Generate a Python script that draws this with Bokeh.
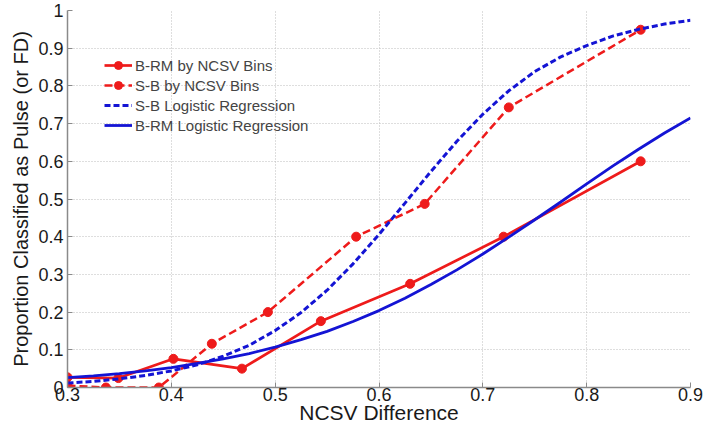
from bokeh.plotting import figure
from bokeh.models import Range1d, FixedTicker, Legend, LegendItem
from bokeh.embed import file_html
from bokeh.resources import INLINE

# ---- data ----
brm_bins_x = [0.300, 0.349, 0.402, 0.468, 0.544, 0.630, 0.720, 0.852]
brm_bins_y = [0.027, 0.025, 0.076, 0.050, 0.176, 0.275, 0.400, 0.600]

sb_bins_x = [0.300, 0.337, 0.388, 0.439, 0.493, 0.578, 0.644, 0.725, 0.852]
sb_bins_y = [0.005, 0.000, 0.000, 0.116, 0.200, 0.400, 0.487, 0.743, 0.949]

logit_x = [0.300, 0.325, 0.350, 0.375, 0.400, 0.425, 0.450, 0.475, 0.500,
           0.525, 0.550, 0.575, 0.600, 0.625, 0.650, 0.675, 0.700, 0.725,
           0.750, 0.775, 0.800, 0.825, 0.850, 0.875, 0.900]
sb_logit_y = [0.012, 0.016, 0.023, 0.032, 0.044, 0.060, 0.083, 0.112, 0.151,
              0.199, 0.258, 0.328, 0.406, 0.489, 0.573, 0.653, 0.725, 0.787,
              0.838, 0.877, 0.907, 0.932, 0.950, 0.964, 0.974]
brm_logit_y = [0.026, 0.031, 0.037, 0.044, 0.053, 0.064, 0.076, 0.090, 0.107,
               0.127, 0.149, 0.175, 0.204, 0.237, 0.273, 0.312, 0.354, 0.399,
               0.445, 0.492, 0.540, 0.587, 0.632, 0.675, 0.715]

x_ticks = [0.3, 0.4, 0.5, 0.6, 0.7, 0.8, 0.9]
x_tick_labels = ["0.3", "0.4", "0.5", "0.6", "0.7", "0.8", "0.9"]
y_ticks = [0.0, 0.1, 0.2, 0.3, 0.4, 0.5, 0.6, 0.7, 0.8, 0.9, 1.0]
y_tick_labels = ["0", "0.1", "0.2", "0.3", "0.4", "0.5", "0.6", "0.7", "0.8", "0.9", "1"]

legend_labels = ["B-RM by NCSV Bins", "S-B by NCSV Bins",
                 "S-B Logistic Regression", "B-RM Logistic Regression"]

RED = "#ee1b1b"
BLUE = "#1414d4"
FONT = "Liberation Sans"

p = figure(width=704, height=429, output_backend="svg", toolbar_location=None,
           x_range=Range1d(0.3, 0.9), y_range=Range1d(0, 1),
           min_border_left=67, min_border_right=14, min_border_top=10, min_border_bottom=42)
p.outline_line_color = None
p.background_fill_color = "white"

r1 = p.line(brm_bins_x, brm_bins_y, line_color=RED, line_width=2.7)
r1m = p.scatter(brm_bins_x, brm_bins_y, size=9, fill_color=RED, line_color=RED)
r2 = p.line(sb_bins_x, sb_bins_y, line_color=RED, line_width=2.5, line_dash="8 4")
r2m = p.scatter(sb_bins_x, sb_bins_y, size=9, fill_color=RED, line_color=RED)
r3 = p.line(logit_x, sb_logit_y, line_color=BLUE, line_width=3, line_dash="6 3")
r4 = p.line(logit_x, brm_logit_y, line_color=BLUE, line_width=2.8)

legend = Legend(items=[
    LegendItem(label=legend_labels[0], renderers=[r1, r1m]),
    LegendItem(label=legend_labels[1], renderers=[r2, r2m]),
    LegendItem(label=legend_labels[2], renderers=[r3]),
    LegendItem(label=legend_labels[3], renderers=[r4]),
], location=(37, 252), padding=0, spacing=0, margin=0,
   label_text_font=FONT, label_text_font_size="15px", label_height=20,
   glyph_height=20, glyph_width=28, label_standoff=3,
   background_fill_alpha=0, border_line_alpha=0)
p.add_layout(legend)

p.xaxis.ticker = FixedTicker(ticks=x_ticks)
p.yaxis.ticker = FixedTicker(ticks=y_ticks)
p.xaxis.major_label_overrides = dict(zip(x_ticks, x_tick_labels))
p.yaxis.major_label_overrides = dict(zip(y_ticks, y_tick_labels))
for ax in (p.xaxis, p.yaxis):
    ax.axis_line_color = "#8a8a8a"
    ax.axis_line_width = 1.5
    ax.major_tick_line_color = "#8a8a8a"
    ax.major_tick_in = 5
    ax.major_tick_out = 0
    ax.minor_tick_line_color = None
    ax.major_label_text_font = FONT
    ax.major_label_text_font_size = "18px"
    ax.major_label_text_color = "#1a1a1a"
    ax.axis_label_text_font = FONT
    ax.axis_label_text_font_style = "normal"
    ax.axis_label_text_color = "#1a1a1a"
p.xaxis.major_label_standoff = 0
p.yaxis.major_label_standoff = 4
p.xaxis.axis_label = "NCSV Difference"
p.xaxis.axis_label_text_font_size = "21px"
p.xaxis.axis_label_standoff = -3
p.yaxis.axis_label = "Proportion Classified as Pulse (or FD)"
p.yaxis.axis_label_text_font_size = "20px"
p.yaxis.axis_label_standoff = 3

for g in (p.xgrid, p.ygrid):
    g.grid_line_color = "#bdbdbd"
    g.grid_line_dash = "1 2"
    g.grid_line_width = 1

open("out.html", "w").write(file_html(p, INLINE))
